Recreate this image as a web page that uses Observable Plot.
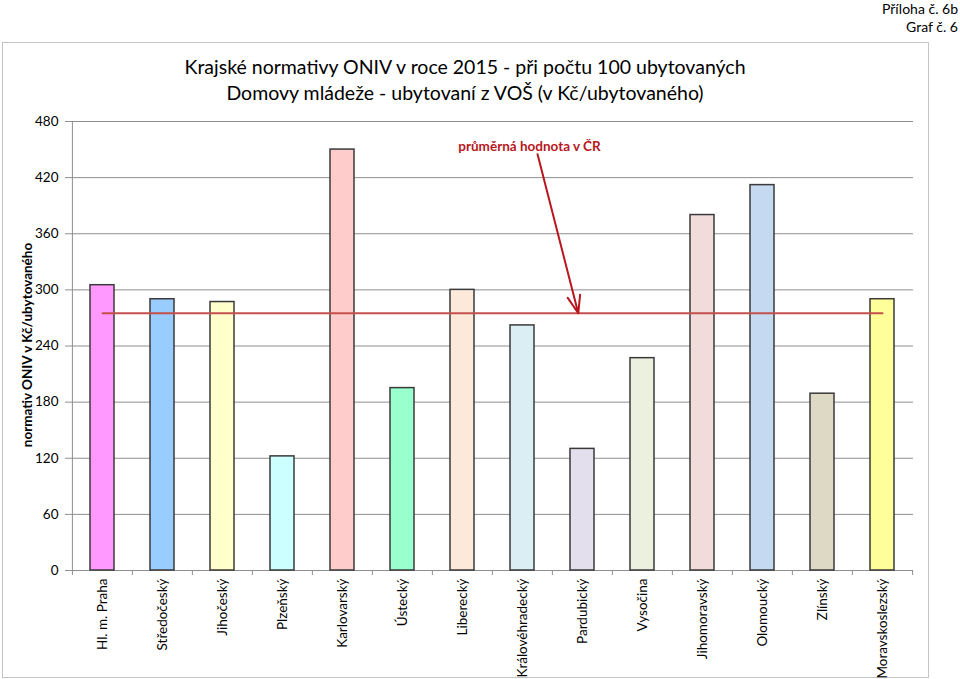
<!DOCTYPE html>
<html><head><meta charset="utf-8">
<script src="https://cdn.jsdelivr.net/npm/d3@7"></script>
<script src="https://cdn.jsdelivr.net/npm/@observablehq/plot@0.6"></script>
<style>
body{margin:0;background:#fff;}
#wrap{position:relative;width:960px;height:679px;overflow:hidden;font-family:Lato,"DejaVu Sans Condensed",sans-serif;color:#000;}
#frame{position:absolute;left:2px;top:42px;width:925px;height:634px;border:1px solid #c4c4c4;}
.title{position:absolute;left:2px;width:926px;text-align:center;font-size:19.5px;line-height:24px;white-space:nowrap;}
.corner{position:absolute;right:2px;font-size:14px;line-height:16px;}
#ylab{position:absolute;left:27px;top:345px;transform:translate(-50%,-50%) rotate(-90deg);font-size:13.5px;font-weight:bold;white-space:nowrap;}
#chart{position:absolute;left:0;top:0;}
</style></head><body>
<div id="wrap">
 <div id="frame"></div>
 <div class="corner" style="top:1px">Příloha č. 6b</div>
 <div class="corner" style="top:19px">Graf č. 6</div>
 <div class="title" style="top:55px">Krajské normativy ONIV v roce 2015 - při počtu 100 ubytovaných</div>
 <div class="title" style="top:81px">Domovy mládeže - ubytovaní z VOŠ (v Kč/ubytovaného)</div>
 <div id="ylab">normativ ONIV v Kč/ubytovaného</div>
 <div id="chart"></div>
</div>
<script>
const regions = ["Hl. m. Praha","Středočeský","Jihočeský","Plzeňský","Karlovarský","Ústecký","Liberecký","Královéhradecký","Pardubický","Vysočina","Jihomoravský","Olomoucký","Zlínský","Moravskoslezský"];
const values = [305, 290, 287, 122, 450, 195, 300, 262, 130, 227, 380, 412, 189, 290];
const colors = ["#ff99ff","#99ccff","#ffffcc","#ccffff","#ffcccc","#99ffcc","#fde9d9","#daeef3","#e4dfec","#ebf1de","#f2dcdb","#c5d9f1","#ddd9c4","#ffff99"];
const average = 275;
const yTicks = [0, 60, 120, 180, 240, 300, 360, 420, 480];
const noteText = "průměrná hodnota v ČR";
const noteRegion = "Královéhradecký";
const noteValue = 453;
const arrowStart = {region: "Královéhradecký", offset: 0.25, value: 445};
const arrowEnd = {region: "Pardubický", offset: -0.07, value: 275};

const data = regions.map((r, i) => ({region: r, value: values[i], color: colors[i]}));

const W = 960, H = 679, mL = 70, mR = 47, mT = 121, mB = 109;
const step = (W - mL - mR) / regions.length;

const plot = Plot.plot({
  width: W, height: H,
  marginLeft: mL, marginRight: mR, marginTop: mT, marginBottom: mB,
  style: {background: "transparent", fontFamily: 'Lato,"DejaVu Sans Condensed",sans-serif', fontSize: "13px", color: "#000"},
  x: {domain: regions, type: "band", paddingInner: 0.6, paddingOuter: 0.3, label: null},
  y: {domain: [0, 480], label: null},
  marks: [
    Plot.gridY(yTicks, {stroke: "#8e8e8e", strokeOpacity: 1, strokeWidth: 1}),
    Plot.ruleX([0], {x: () => regions[0], y1: 0, y2: 480, dx: -step / 2, stroke: "#8e8e8e"}),
    Plot.ruleX(regions, {x: d => d, y1: 0, y2: 0, insetBottom: -5, dx: -step / 2, stroke: "#8e8e8e"}),
    Plot.ruleX([regions[regions.length - 1]], {x: d => d, y1: 0, y2: 0, insetBottom: -5, dx: step / 2, stroke: "#8e8e8e"}),
    Plot.axisY({ticks: yTicks, tickSize: 5, tickPadding: 7, stroke: "#8e8e8e", fontSize: 13.5, tickFormat: d => d, label: null}),
    Plot.axisX({tickSize: 0, tickPadding: 8, tickRotate: -90, fontSize: 13.5, label: null}),
    Plot.barY(data, {x: "region", y: "value", fill: "color", stroke: "#3a3a3a", strokeWidth: 1.5}),
    Plot.lineY([{region: regions[0], value: average}, {region: regions[regions.length - 1], value: average}], {x: "region", y: "value", stroke: "#c4504d", strokeWidth: 2}),
    Plot.arrow([{x1: arrowStart.region, y1: arrowStart.value, x2: arrowEnd.region, y2: arrowEnd.value}], {
      x1: "x1", y1: "y1", x2: "x2", y2: "y2", stroke: "#b8171d", strokeWidth: 2, headLength: 14, headAngle: 40,
      render: (index, scales, values, dims, ctx, next) => next(index, scales, {
        ...values,
        x1: Float64Array.from(values.x1, v => v + arrowStart.offset * step),
        x2: Float64Array.from(values.x2, v => v + arrowEnd.offset * step)
      }, dims, ctx)
    }),
    Plot.text([noteText], {x: () => noteRegion, y: () => noteValue, text: d => d, dx: 7, fill: "#b8171d", fontWeight: "bold", fontSize: 13.5})
  ]
});
document.getElementById("chart").appendChild(plot);
</script>
</body></html>
